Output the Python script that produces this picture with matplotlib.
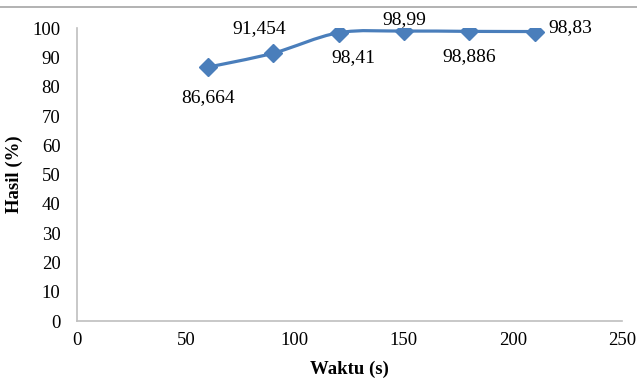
import numpy as np
import matplotlib.pyplot as plt
from matplotlib.path import Path
from matplotlib.patches import PathPatch
from matplotlib.lines import Line2D

waktu = [60, 90, 120, 150, 180, 210]
hasil = [86.664, 91.454, 98.41, 98.99, 98.886, 98.83]
labels = ['86,664', '91,454', '98,41', '98,99', '98,886', '98,83']
# label offsets in points (dx, dy) and alignment
label_pos = [((0, -22), 'center'), ((-10, 18), 'center'), ((11, -18), 'center'),
             ((0, 8), 'center'), ((0, -18), 'center'), ((10, 3), 'left')]

plt.rcParams['font.family'] = ['Liberation Serif', 'DejaVu Serif']

fig = plt.figure(figsize=(6.37, 3.8), dpi=100)
ax = fig.add_axes([0.121, 0.155, 0.855, 0.771])

blue = '#4a7ebb'

# smoothed line (Catmull-Rom style bezier, like the spreadsheet "smoothed line")
x = np.array(waktu, dtype=float)
y = np.array(hasil, dtype=float)
verts = [(x[0], y[0])]
codes = [Path.MOVETO]
n = len(x)
for i in range(n - 1):
    p0 = (x[max(i - 1, 0)], y[max(i - 1, 0)])
    p1 = (x[i], y[i])
    p2 = (x[i + 1], y[i + 1])
    p3 = (x[min(i + 2, n - 1)], y[min(i + 2, n - 1)])
    c1 = (p1[0] + (p2[0] - p0[0]) / 6, p1[1] + (p2[1] - p0[1]) / 6)
    c2 = (p2[0] - (p3[0] - p1[0]) / 6, p2[1] - (p3[1] - p1[1]) / 6)
    verts += [c1, c2, p2]
    codes += [Path.CURVE4] * 3
ax.add_patch(PathPatch(Path(verts, codes), facecolor='none', edgecolor=blue,
                       lw=2.3, capstyle='round', joinstyle='round'))
ax.plot(waktu, hasil, linestyle='none', marker='D', markersize=9,
        color=blue, zorder=3)

for xi, yi, lab, (off, ha) in zip(waktu, hasil, labels, label_pos):
    ax.annotate(lab, (xi, yi), xytext=off, textcoords='offset points',
                ha=ha, va='center', fontsize=14, color='black')

ax.set_xlim(0, 250)
ax.set_ylim(0, 100)
ax.set_xticks(range(0, 251, 50))
ax.set_yticks(range(0, 101, 10))
ax.tick_params(length=0, labelsize=13.5)
ax.tick_params(axis='y', pad=12)
ax.tick_params(axis='x', pad=8)
for s in ['top', 'right']:
    ax.spines[s].set_visible(False)
for s in ['left', 'bottom']:
    ax.spines[s].set_color('#bfbfbf')
    ax.spines[s].set_linewidth(1.2)

ax.set_xlabel('Waktu (s)', fontsize=13.5, fontweight='bold', labelpad=8)
ax.set_ylabel('Hasil (%)', fontsize=13.5, fontweight='bold', labelpad=7)

fig.add_artist(Line2D([0, 1], [0.982, 0.982], color='#a6a6a6', lw=1.2,
                      transform=fig.transFigure))

fig.savefig('out.png', dpi=100)
